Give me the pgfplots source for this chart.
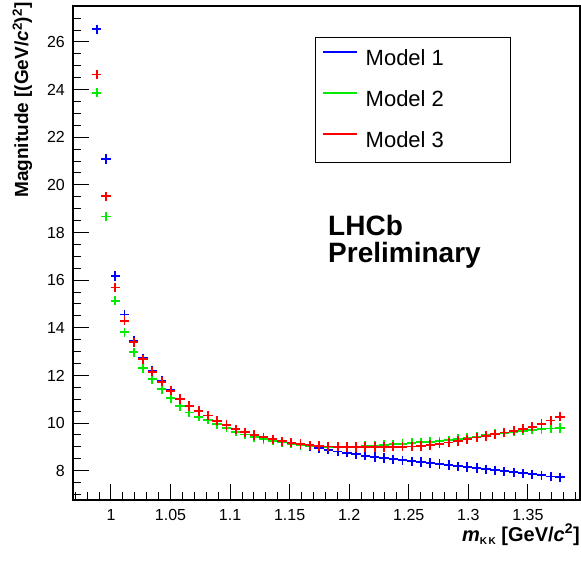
\documentclass[border=0pt]{standalone}
\usepackage{fontspec}
\setmainfont{Liberation Sans}
\usepackage{pgfplots}
\usepackage{pgfplotstable}
\pgfplotsset{compat=1.18}

\definecolor{rblue}{rgb}{0,0,1}
\definecolor{rgreen}{rgb}{0,0.92,0}
\definecolor{rred}{rgb}{1,0,0}

\pgfplotstableread{
x b g r
0.9880 26.53 23.87 24.63
0.9958 21.09 18.67 19.52
1.0036 16.18 15.14 15.69
1.0113 14.56 13.81 14.30
1.0191 13.46 12.97 13.39
1.0269 12.72 12.30 12.68
1.0347 12.19 11.84 12.16
1.0425 11.76 11.42 11.74
1.0502 11.38 11.04 11.36
1.0580 11.03 10.72 11.01
1.0658 10.73 10.44 10.72
1.0736 10.52 10.27 10.51
1.0814 10.32 10.14 10.32
1.0891 10.10 9.96 10.10
1.0969 9.92 9.80 9.92
1.1047 9.74 9.64 9.74
1.1125 9.60 9.52 9.61
1.1203 9.48 9.42 9.50
1.1280 9.38 9.33 9.40
1.1358 9.29 9.26 9.32
1.1436 9.21 9.19 9.24
1.1514 9.14 9.13 9.17
1.1592 9.08 9.08 9.12
1.1669 9.02 9.05 9.07
1.1747 8.95 9.03 9.04
1.1825 8.88 9.01 9.02
1.1903 8.81 9.01 9.01
1.1981 8.75 9.01 9.00
1.2058 8.69 9.02 9.00
1.2136 8.63 9.04 9.00
1.2214 8.58 9.06 9.00
1.2292 8.53 9.08 9.00
1.2370 8.48 9.11 9.01
1.2447 8.44 9.13 9.01
1.2525 8.40 9.16 9.02
1.2603 8.36 9.19 9.04
1.2681 8.32 9.21 9.08
1.2759 8.28 9.24 9.13
1.2836 8.24 9.28 9.18
1.2914 8.19 9.33 9.25
1.2992 8.15 9.38 9.32
1.3070 8.11 9.44 9.39
1.3148 8.06 9.49 9.46
1.3225 8.02 9.54 9.53
1.3303 7.98 9.59 9.60
1.3381 7.93 9.64 9.68
1.3459 7.89 9.68 9.76
1.3537 7.85 9.72 9.85
1.3614 7.81 9.75 9.96
1.3692 7.76 9.77 10.11
1.3770 7.72 9.79 10.27
}\data

\begin{document}
\begin{tikzpicture}[x=1pt,y=1pt]
\useasboundingbox (0,0) rectangle (581,563);
\begin{axis}[
  at={(73pt,63pt)}, anchor=south west,
  scale only axis, width=507pt, height=494pt,
  xmin=0.9681, xmax=1.3938, ymin=6.77, ymax=27.51,
  xtick={1,1.05,1.1,1.15,1.2,1.25,1.3,1.35},
  xticklabels={1,1.05,1.1,1.15,1.2,1.25,1.3,1.35},
  ytick={8,10,12,14,16,18,20,22,24,26},
  minor xtick={0.97,0.98,0.99,1.01,1.02,1.03,1.04,1.06,1.07,1.08,1.09,1.11,1.12,1.13,1.14,1.16,1.17,1.18,1.19,1.21,1.22,1.23,1.24,1.26,1.27,1.28,1.29,1.31,1.32,1.33,1.34,1.36,1.37,1.38,1.39},
  minor ytick={7,7.5,8.5,9,9.5,10.5,11,11.5,12.5,13,13.5,14.5,15,15.5,16.5,17,17.5,18.5,19,19.5,20.5,21,21.5,22.5,23,23.5,24.5,25,25.5,26.5,27},
  tick pos=left, tick align=inside,
  major tick length=16pt, minor tick length=8pt,
  every tick/.style={black, line width=1pt},
  axis line style={line width=1.2pt},
  /pgf/number format/assume math mode=true,
  ticklabel style={font=\fontsize{16}{16}\selectfont, inner sep=0pt},
  yticklabel style={xshift=-8pt},
  xticklabel style={yshift=-9pt},
  xlabel={\fontsize{20}{20}\selectfont\bfseries\itshape m\raisebox{-3pt}{\fontsize{10}{10}\selectfont\upshape K\,K}\upshape\ [GeV/\textit{c}\textsuperscript{2}]},
  every axis x label/.style={at={(rel axis cs:1,-0.083)}, anchor=base east, inner sep=0pt},
  ylabel={\fontsize{19}{19}\selectfont\bfseries Magnitude [(GeV/\textit{c}\textsuperscript{2})\textsuperscript{2}]},
  every axis y label/.style={at={(rel axis cs:-0.0887,0.6114)}, rotate=90, anchor=base west, inner sep=0pt},
  legend style={at={(rel axis cs:0.477,0.937)}, anchor=north west, draw=black, line width=0.9pt,
    inner xsep=7pt, inner ysep=12pt, row sep=22pt,
    font=\fontsize{22}{22}\selectfont,
    nodes={inner sep=0pt, text height=16pt, text depth=3pt},
    /tikz/every odd column/.append style={column sep=8pt}},
  legend cell align=left,
  legend image code/.code={\draw[#1, mark=none, line width=1.4pt] (0pt,7pt) -- (34pt,7pt);},
]
\addplot[only marks, mark=+, mark size=4.65pt, rblue, mark options={line width=1.8pt}] table[x=x,y=b]{\data};
\addlegendentry{\makebox[138pt][l]{Model 1}}
\addplot[only marks, mark=+, mark size=4.65pt, rgreen, mark options={line width=1.8pt}] table[x=x,y=g]{\data};
\addlegendentry{\makebox[138pt][l]{Model 2}}
\addplot[only marks, mark=+, mark size=4.65pt, rred, mark options={line width=1.8pt}] table[x=x,y=r]{\data};
\addlegendentry{\makebox[138pt][l]{Model 3}}
\node[anchor=base west, inner sep=0pt, font=\fontsize{28}{28}\selectfont\bfseries] at (rel axis cs:0.503,0.5355) {LHCb};
\node[anchor=base west, inner sep=0pt, font=\fontsize{28}{28}\selectfont\bfseries] at (rel axis cs:0.503,0.4815) {Preliminary};
\end{axis}
\end{tikzpicture}
\end{document}
